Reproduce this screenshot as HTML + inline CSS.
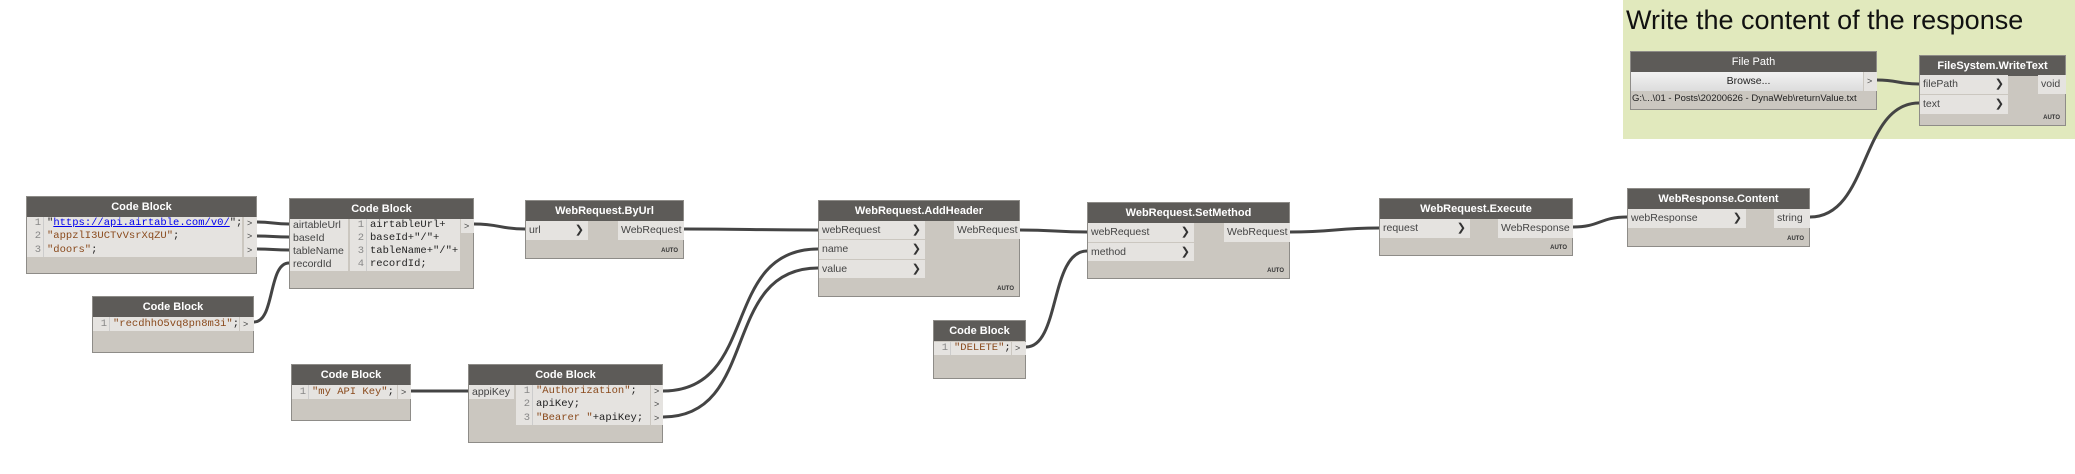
<!DOCTYPE html>
<html><head><meta charset="utf-8"><style>
body{margin:0;width:2075px;height:474px;background:#fff;position:relative;overflow:hidden;font-family:"Liberation Sans",sans-serif}
.n{position:absolute;background:#cbc7c0;border:1px solid #8e8c88;box-sizing:border-box}
.h{background:#5d5b58;color:#fff;font-size:11px;font-weight:bold;text-align:center;height:20px;line-height:20px;white-space:nowrap}
.a{position:absolute;background:#e5e3e0;font-size:10.5px;color:#444;white-space:nowrap;box-sizing:border-box;padding-left:3px;overflow:hidden}
.c{font-family:"Liberation Mono",monospace;font-size:10.5px;color:#222}
.s{color:#8a4a1c}
.ln{color:#888;display:inline-block;width:11px;text-align:right;margin-right:3px;border-right:1px solid #ccc;padding-right:2px}
.auto{position:absolute;right:5px;bottom:4px;font-size:6px;font-weight:bold;color:#333}
.ar{position:absolute;right:4px;font-size:11px;color:#333}
</style></head><body>
<div style="position:absolute;left:1623px;top:0;width:452px;height:139px;background:#e1e9bd"></div>
<div style="position:absolute;left:1626px;top:5px;font-size:27px;color:#111;white-space:nowrap">Write the content of the response</div>

<svg style="position:absolute;left:0;top:0" width="2075" height="474">
<g fill="none" stroke="#444" stroke-width="3">
<path d="M257 222 C273 222 273 224 289 224"/>
<path d="M257 236 C273 236 273 237 289 237"/>
<path d="M257 249 C273 249 273 250 289 250"/>
<path d="M254 322 C275 322 268 263 289 263"/>
<path d="M474 224 C500 224 500 229 525 229"/>
<path d="M684 229 C750 229 750 230 818 230"/>
<path d="M411 391 C440 391 440 391 468 391"/>
<path d="M663 391 C760 391 720 249 818 249"/>
<path d="M663 417 C760 417 720 268 818 268"/>
<path d="M1020 230 C1055 230 1055 232 1087 232"/>
<path d="M1026 347 C1060 347 1050 251 1087 251"/>
<path d="M1290 232 C1335 232 1335 228 1379 228"/>
<path d="M1573 227 C1600 227 1600 217 1627 217"/>
<path d="M1810 217 C1870 217 1860 103 1919 103"/>
<path d="M1877 80 C1898 80 1898 84 1919 84"/>
</g></svg>

<!-- CB1 -->
<div class="n" style="left:26px;top:196px;width:231px;height:78px"><div class="h">Code Block</div>
<div class="a c" style="left:0;top:20px;width:215px;height:40px;line-height:13.3px">
<div><span class="ln">1</span>"<span style="color:#00e;text-decoration:underline">https://api.airtable.com/v0/</span>";</div>
<div><span class="ln">2</span><span class="s">"appzlI3UCTvVsrXqZU"</span>;</div>
<div><span class="ln">3</span><span class="s">"doors"</span>;</div></div>
<div class="a" style="left:217px;top:20px;width:13px;height:40px;line-height:13.3px;font-size:9px">&gt;<br>&gt;<br>&gt;</div></div>

<!-- CB2 -->
<div class="n" style="left:289px;top:198px;width:185px;height:91px"><div class="h">Code Block</div>
<div class="a" style="left:0;top:20px;width:58px;height:52px;line-height:13px">airtableUrl<br>baseId<br>tableName<br>recordId</div>
<div class="a c" style="left:60px;top:20px;width:110px;height:52px;line-height:13px">
<div><span class="ln">1</span>airtableUrl+</div><div><span class="ln">2</span>baseId+"/"+</div><div><span class="ln">3</span>tableName+"/"+</div><div><span class="ln">4</span>recordId;</div></div>
<div class="a" style="left:171px;top:20px;width:13px;height:14px;font-size:9px;line-height:14px">&gt;</div></div>

<!-- recordId CB -->
<div class="n" style="left:92px;top:296px;width:162px;height:57px"><div class="h">Code Block</div>
<div class="a c" style="left:0;top:20px;width:146px;height:14px;line-height:14px"><span class="ln">1</span><span class="s">"recdhhO5vq8pn8m3i"</span>;</div>
<div class="a" style="left:147px;top:20px;width:14px;height:14px;font-size:9px;line-height:14px">&gt;</div></div>

<!-- ByUrl -->
<div class="n" style="left:525px;top:200px;width:159px;height:59px"><div class="h">WebRequest.ByUrl</div>
<div class="a" style="left:0;top:20px;width:62px;height:19px;line-height:19px">url<span class="ar">❯</span></div>
<div class="a" style="left:92px;top:20px;width:66px;height:19px;line-height:19px">WebRequest</div><div class="auto">AUTO</div></div>

<!-- apiKey CB -->
<div class="n" style="left:291px;top:364px;width:120px;height:57px"><div class="h">Code Block</div>
<div class="a c" style="left:0;top:20px;width:105px;height:14px;line-height:14px"><span class="ln">1</span><span class="s">"my API Key"</span>;</div>
<div class="a" style="left:106px;top:20px;width:13px;height:14px;font-size:9px;line-height:14px">&gt;</div></div>

<!-- auth CB -->
<div class="n" style="left:468px;top:364px;width:195px;height:79px"><div class="h">Code Block</div>
<div class="a" style="left:0;top:20px;width:45px;height:14px;line-height:14px">appiKey</div>
<div class="a c" style="left:47px;top:20px;width:134px;height:40px;line-height:13.3px">
<div><span class="ln">1</span><span class="s">"Authorization"</span>;</div><div><span class="ln">2</span>apiKey;</div><div><span class="ln">3</span><span class="s">"Bearer "</span>+apiKey;</div></div>
<div class="a" style="left:182px;top:20px;width:12px;height:40px;line-height:13.3px;font-size:9px">&gt;<br>&gt;<br>&gt;</div></div>

<!-- AddHeader -->
<div class="n" style="left:818px;top:200px;width:202px;height:97px"><div class="h">WebRequest.AddHeader</div>
<div class="a" style="left:0;top:20px;width:106px;height:18px;line-height:18px">webRequest<span class="ar">❯</span></div>
<div class="a" style="left:0;top:39px;width:106px;height:19px;line-height:19px">name<span class="ar">❯</span></div>
<div class="a" style="left:0;top:59px;width:106px;height:18px;line-height:18px">value<span class="ar">❯</span></div>
<div class="a" style="left:135px;top:20px;width:66px;height:18px;line-height:18px">WebRequest</div><div class="auto">AUTO</div></div>

<!-- DELETE -->
<div class="n" style="left:933px;top:320px;width:93px;height:59px"><div class="h">Code Block</div>
<div class="a c" style="left:0;top:21px;width:77px;height:13px;line-height:13px"><span class="ln">1</span><span class="s">"DELETE"</span>;</div>
<div class="a" style="left:78px;top:21px;width:14px;height:13px;font-size:9px;line-height:13px">&gt;</div></div>

<!-- SetMethod -->
<div class="n" style="left:1087px;top:202px;width:203px;height:77px"><div class="h">WebRequest.SetMethod</div>
<div class="a" style="left:0;top:20px;width:106px;height:19px;line-height:19px">webRequest<span class="ar">❯</span></div>
<div class="a" style="left:0;top:40px;width:106px;height:18px;line-height:18px">method<span class="ar">❯</span></div>
<div class="a" style="left:136px;top:20px;width:66px;height:19px;line-height:19px">WebRequest</div><div class="auto">AUTO</div></div>

<!-- Execute -->
<div class="n" style="left:1379px;top:198px;width:194px;height:58px"><div class="h">WebRequest.Execute</div>
<div class="a" style="left:0;top:20px;width:90px;height:19px;line-height:19px">request<span class="ar">❯</span></div>
<div class="a" style="left:118px;top:20px;width:75px;height:19px;line-height:19px">WebResponse</div><div class="auto">AUTO</div></div>

<!-- Content -->
<div class="n" style="left:1627px;top:188px;width:183px;height:59px"><div class="h">WebResponse.Content</div>
<div class="a" style="left:0;top:20px;width:118px;height:19px;line-height:19px">webResponse<span class="ar">❯</span></div>
<div class="a" style="left:146px;top:20px;width:36px;height:19px;line-height:19px">string</div><div class="auto">AUTO</div></div>

<!-- File Path -->
<div class="n" style="left:1630px;top:51px;width:247px;height:59px"><div class="h" style="font-weight:normal">File Path</div>
<div class="a" style="left:0;top:20px;width:232px;height:19px;line-height:19px;text-align:center;background:linear-gradient(#f2f2f2,#dcdcdc);color:#222">Browse...</div>
<div class="a" style="left:233px;top:20px;width:13px;height:19px;line-height:19px;font-size:9px">&gt;</div>
<div style="position:absolute;left:1px;top:41px;font-size:9.5px;color:#222;white-space:nowrap">G:\...\01 - Posts\20200626 - DynaWeb\returnValue.txt</div></div>

<!-- WriteText -->
<div class="n" style="left:1919px;top:55px;width:147px;height:71px"><div class="h">FileSystem.WriteText</div>
<div class="a" style="left:0;top:19px;width:88px;height:19px;line-height:19px">filePath<span class="ar">❯</span></div>
<div class="a" style="left:0;top:39px;width:88px;height:19px;line-height:19px">text<span class="ar">❯</span></div>
<div class="a" style="left:118px;top:19px;width:28px;height:19px;line-height:19px">void</div><div class="auto">AUTO</div></div>
</body></html>
